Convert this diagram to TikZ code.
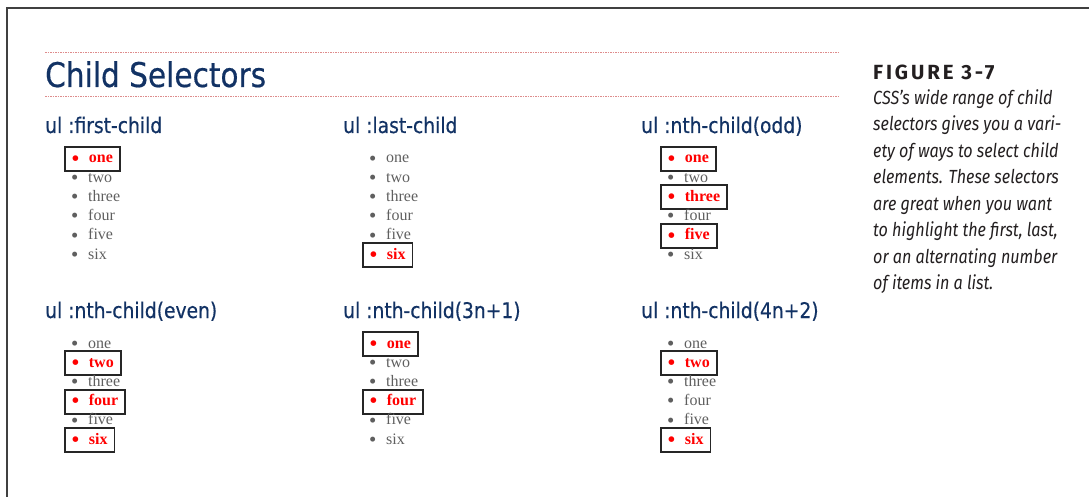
\documentclass[tikz,border=0pt]{standalone}
\usepackage{fontspec}
\setmainfont{Liberation Serif}
\newfontfamily\tahoma{DejaVu Sans}[FakeStretch=0.87, FakeBold=0.5]
\newfontfamily\figfont{Fira Sans}[LetterSpace=14]
\newfontfamily\capfont{Fira Sans}[FakeStretch=0.85]
\usepackage{tikz}
\usetikzlibrary{calc}

\definecolor{navy}{RGB}{18,50,100}
\definecolor{listgray}{RGB}{95,95,95}
\definecolor{rulepink}{RGB}{222,140,140}
\definecolor{capblack}{RGB}{35,31,32}

\newcommand\itemword[1]{\ifcase#1\or one\or two\or three\or four\or five\or six\fi}

\tikzset{
  li/.style={anchor=west, inner xsep=7pt, inner ysep=5pt, text height=11pt, text depth=3pt,
    font=\fontsize{16}{16}\selectfont, text=listgray},
  lihit/.style={li, text=red, font=\fontsize{16}{16}\selectfont\bfseries,
    draw=black!85, line width=1.8pt},
  head/.style={anchor=base west, inner sep=0pt, text=navy, font=\tahoma\fontsize{21.5}{21.5}\selectfont},
  dotrule/.style={rulepink, line width=0.8pt, dash pattern=on 1.5pt off 1pt}
}

\begin{document}
\begin{tikzpicture}[x=1pt, y=-1pt]
\useasboundingbox (0,0) rectangle (1089,497);
\draw[black!75, line width=2.5pt] (7,497)--(7,8)--(1089,8);

\draw[dotrule] (45,52)--(840,52);
\draw[dotrule] (45,96)--(840,96);
\node[anchor=base west, inner sep=0pt, text=navy, font=\tahoma\fontsize{34}{34}\selectfont] (title) at (45,87) {Child Selectors};

\foreach \hd/\cx/\cy/\marks [count=\p] in {
  {ul :first-child}/45/133/{lihit,li,li,li,li,li},
  {ul :last-child}/343/133/{li,li,li,li,li,lihit},
  {ul :nth-child(odd)}/641/133/{lihit,li,lihit,li,lihit,li},
  {ul :nth-child(even)}/45/318/{li,lihit,li,lihit,li,lihit},
  {ul :nth-child(3n+1)}/343/318/{lihit,li,li,lihit,li,li},
  {ul :nth-child(4n+2)}/641/318/{li,lihit,li,li,li,lihit}}
{
  \node[head] (h\p) at (\cx,\cy) {\hd};
  \foreach \st [count=\i] in \marks
    \node[\st] (p\p-\i) at (\cx+19, \cy+26+19.2*\i-19.2) {\makebox[17pt][l]{\raisebox{-2.2pt}{\scalebox{1.3}{\textbullet}}}\itemword{\i}\hspace{3pt}};
}

\node[anchor=base west, inner sep=0pt, text=capblack, font=\figfont\fontsize{20.5}{20.5}\selectfont\bfseries] (fig) at (873,80) {FIGURE 3-7};
\node[anchor=north west, inner sep=0pt, align=left, text=capblack, font=\capfont\itshape\fontsize{19}{26.5}\selectfont] (cap) at (873,89) {CSS’s wide range of child\\selectors gives you a vari-\\ety of ways to select child\\elements. These selectors\\are great when you want\\to highlight the first, last,\\or an alternating number\\of items in a list.};
\end{tikzpicture}
\end{document}
